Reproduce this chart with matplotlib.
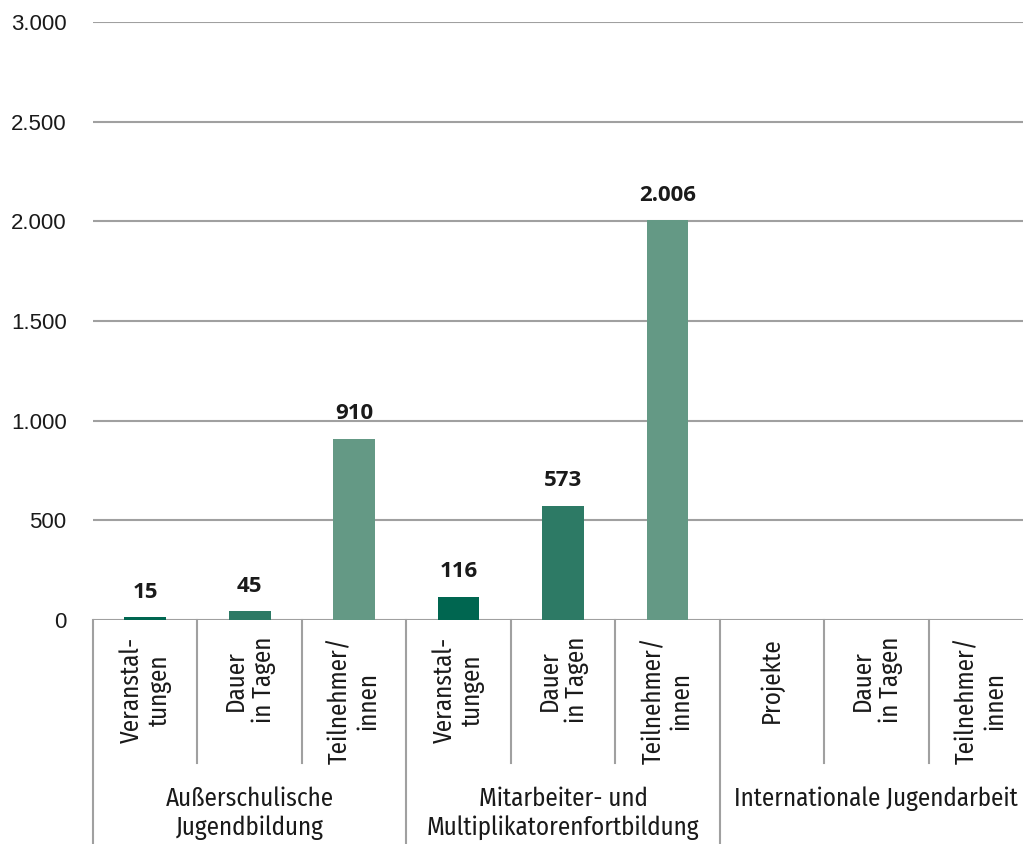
import numpy as np
import matplotlib.pyplot as plt

# Daten
gruppen = ["Außerschulische\nJugendbildung",
           "Mitarbeiter- und\nMultiplikatorenfortbildung",
           "Internationale Jugendarbeit"]
kategorien = ["Veranstal-\ntungen", "Dauer\nin Tagen", "Teilnehmer/\ninnen",
              "Veranstal-\ntungen", "Dauer\nin Tagen", "Teilnehmer/\ninnen",
              "Projekte", "Dauer\nin Tagen", "Teilnehmer/\ninnen"]
werte = [15, 45, 910, 116, 573, 2006, np.nan, np.nan, np.nan]
farben = ["#006650", "#2d7a65", "#649985"] * 3
yticks = [0, 500, 1000, 1500, 2000, 2500, 3000]

schmal = ['Fira Sans Condensed', 'Roboto Condensed', 'DejaVu Sans']


def fmt(v):
    return f"{int(v):,}".replace(",", ".")


fig = plt.figure(figsize=(10.23, 8.44), dpi=100)
ax = fig.add_axes([93/1023, 1 - 620/844, 940/1023, 598/844])

xs = np.arange(len(werte))
ax.bar(xs, werte, width=0.4, color=farben, zorder=3)

for x, v in zip(xs, werte):
    if np.isnan(v):
        continue
    ax.annotate(fmt(v), (x, v), xytext=(0, 14), textcoords='offset points',
                ha='center', va='baseline', fontsize=16, fontweight='bold',
                family='Open Sans', color='#1a1a1a')

ax.set_xlim(-0.5, 8.5)
ax.set_ylim(0, 3000)
ax.set_yticks(yticks)
ax.set_yticklabels([fmt(t) for t in yticks], family='Liberation Sans',
                   fontsize=16, color='#1a1a1a')
ax.tick_params(axis='y', length=0, pad=19)
ax.set_xticks([])
for s in ax.spines.values():
    s.set_visible(False)
ax.grid(axis='y', color='#a0a0a0', linewidth=1.5, zorder=0)

# Trennlinien unter der Achse
trans = ax.get_xaxis_transform()
linie = '#a0a0a0'
for x in np.arange(-0.5, 9, 1):
    if x in (-0.5, 2.5, 5.5):
        unten = -224/598
    else:
        unten = -143/598
    ax.plot([x, x], [0, unten], color=linie, lw=1.5, transform=trans,
            clip_on=False)

# Kategorie-Beschriftungen
for x, k in zip(xs, kategorien):
    ax.text(x, -17/598, k, transform=trans, rotation=90, ha='center',
            va='top', multialignment='center', fontsize=18, family=schmal,
            color='#1a1a1a', linespacing=1.15)

# Gruppen-Beschriftungen
for i, g in enumerate(gruppen):
    ax.text(3*i + 1, -166/598, g, transform=trans, ha='center', va='top',
            fontsize=18, family=schmal, color='#1a1a1a', linespacing=1.2)

fig.savefig('out.png', dpi=100)
